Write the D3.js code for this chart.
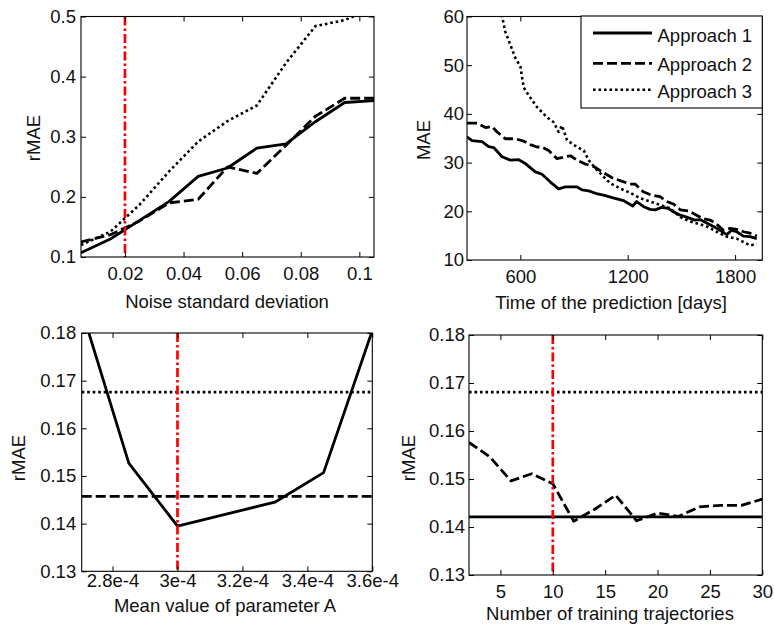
<!DOCTYPE html>
<html><head><meta charset="utf-8">
<script src="https://cdn.jsdelivr.net/npm/d3@7"></script>
<style>body{margin:0;background:#fff}</style>
</head><body><svg id="c" width="774" height="632"></svg>
<script>
// ---------------- DATA ----------------
// Panel 1: rMAE vs noise standard deviation
const noiseStd = [0.005,0.015,0.025,0.035,0.045,0.055,0.065,0.075,0.085,0.095,0.105];
const noiseA1  = [0.107,0.130,0.161,0.192,0.234,0.248,0.281,0.288,0.325,0.357,0.360];
const noiseA2  = [0.125,0.137,0.160,0.190,0.196,0.250,0.239,0.286,0.334,0.364,0.364];
const noiseA3  = [0.120,0.142,0.187,0.242,0.292,0.326,0.352,0.423,0.484,0.494,0.515];
const noiseTicks = [0.02,0.04,0.06,0.08,0.1];
const noiseTickLabels = ["0.02","0.04","0.06","0.08","0.1"];
const noiseYTicks = [0.1,0.2,0.3,0.4,0.5];
const noiseYTickLabels = ["0.1","0.2","0.3","0.4","0.5"];
const noiseChosen = 0.02;

// Panel 2: MAE vs time of the prediction
const timeA1 = [302,330,386,423,451,498,544,591,628,684,721,768,814,852,917,945,982,1020,1076,1113,1176,1228,1250,1287,1325,1353,1390,1427,1455,1494,1529,1576,1604,1641,1679,1716,1753,1781,1809,1846,1884,1921];
const maeA1  = [35.3,34.5,34.3,33.3,33.1,31.2,30.5,30.6,29.8,28.1,27.6,26.0,24.6,25.0,25.0,24.4,24.2,23.7,23.2,22.8,22.2,21.1,22.0,21.0,20.4,20.3,20.8,20.6,19.9,19.2,18.8,18.2,18.3,17.6,16.9,16.1,15.2,16.1,15.8,14.9,14.8,14.4];
const timeA2 = [302,358,405,442,470,516,572,619,656,693,721,758,805,852,880,917,963,1010,1057,1113,1157,1213,1241,1287,1334,1381,1418,1455,1494,1539,1585,1623,1660,1697,1734,1772,1809,1846,1884,1921];
const maeA2  = [38.1,38.1,37.2,37.4,36.3,34.9,34.9,34.4,33.7,33.2,33.2,32.5,30.8,31.2,31.4,30.5,29.7,29.2,28.1,26.9,26.3,25.6,25.6,24.0,23.3,23.0,22.0,21.5,20.3,20.1,19.2,18.5,18.2,17.4,16.1,16.5,16.3,15.8,15.5,14.9];
const timeA3 = [302,400,470,498,516,544,572,600,619,647,693,749,786,814,833,861,917,954,982,1020,1057,1101,1157,1213,1269,1325,1381,1437,1494,1550,1597,1641,1697,1753,1809,1846,1884,1921];
const maeA3  = [130,85,66,60,56.9,54.2,51.5,49.8,45.4,43.8,41.4,39.3,38.3,36.3,37.6,34.6,33.2,32.5,30.5,28.8,27.4,25.8,24.7,23.8,22.7,22.0,21.3,20.6,18.8,17.9,17.4,16.9,15.8,14.8,14.4,13.7,13.0,13.3];
const timeTicks = [600,1200,1800];
const timeTickLabels = ["600","1200","1800"];
const maeYTicks = [10,20,30,40,50,60];
const maeYTickLabels = ["10","20","30","40","50","60"];
const legendLabels = ["Approach 1","Approach 2","Approach 3"];

// Panel 3: rMAE vs mean value of parameter A
const paramA   = [2.7e-4,2.85e-4,3.0e-4,3.15e-4,3.3e-4,3.45e-4,3.6e-4];
const paramAA1 = [0.186,0.1527,0.1395,0.1420,0.1445,0.1507,0.1805];
const paramAA2 = 0.1457;
const paramAA3 = 0.1676;
const paramTicks = [2.8e-4,3.0e-4,3.2e-4,3.4e-4,3.6e-4];
const paramTickLabels = ["2.8e-4","3e-4","3.2e-4","3.4e-4","3.6e-4"];
const paramChosen = 3.0e-4;

// Panel 4: rMAE vs number of training trajectories
const nTraj   = [2,4,6,8,10,12,14,16,18,20,22,24,26,28,30];
const nTrajA2 = [0.1576,0.1546,0.1496,0.1511,0.1490,0.1412,0.1437,0.1466,0.1413,0.1429,0.1422,0.1442,0.1445,0.1445,0.1458];
const nTrajA1 = 0.1421;
const nTrajA3 = 0.1681;
const nTrajTicks = [5,10,15,20,25,30];
const nTrajTickLabels = ["5","10","15","20","25","30"];
const nTrajChosen = 10;

const rmaeYTicks = [0.13,0.14,0.15,0.16,0.17,0.18];
const rmaeYTickLabels = ["0.13","0.14","0.15","0.16","0.17","0.18"];

// ---------------- DRAWING ----------------
const svg = d3.select("#c");
const FONT = "'Liberation Sans', Arial, sans-serif";
const FS = 18.5;
const TXT = "#111";
const DASH = {solid: null, dashed: "10,4", dotted: "2.6,2.9"};
const WIDTH = {solid: 2.8, dashed: 2.8, dotted: 2.6};

function panel(cfg) {
  const b = cfg.box;
  const xs = d3.scaleLinear().domain(cfg.xDomain).range([b.x0, b.x1]);
  const ys = d3.scaleLinear().domain(cfg.yDomain).range([b.y1, b.y0]);
  const g = svg.append("g");
  const cid = "clip" + cfg.name;
  svg.append("clipPath").attr("id", cid).append("rect")
    .attr("x", b.x0).attr("y", b.y0).attr("width", b.x1 - b.x0).attr("height", b.y1 - b.y0);
  const plot = g.append("g").attr("clip-path", `url(#${cid})`);

  cfg.series.forEach(s => {
    const pts = (s.level !== undefined)
      ? [[cfg.xDomain[0], s.level], [cfg.xDomain[1], s.level]]
      : s.x.map((v, i) => [v, s.y[i]]);
    plot.append("path")
      .attr("d", d3.line().x(d => xs(d[0])).y(d => ys(d[1]))(pts))
      .attr("fill", "none").attr("stroke", "#000")
      .attr("stroke-width", WIDTH[s.style])
      .attr("stroke-linejoin", "round")
      .attr("stroke-dasharray", DASH[s.style]);
  });
  if (cfg.red !== undefined) {
    plot.append("line")
      .attr("x1", xs(cfg.red)).attr("x2", xs(cfg.red))
      .attr("y1", b.y0).attr("y2", b.y1)
      .attr("stroke", "#ff0000").attr("stroke-width", 2.7)
      .attr("stroke-dasharray", "9,3,2.5,3");
  }

  const fmtX = d => cfg.xLabels[cfg.xTicks.indexOf(d)];
  const fmtY = d => cfg.yLabels[cfg.yTicks.indexOf(d)];
  const style = sel => {
    sel.select(".domain").remove();
    sel.selectAll(".tick line").attr("stroke", "#000").attr("stroke-width", 1);
    sel.selectAll("text").attr("font-family", FONT).attr("font-size", FS).attr("fill", TXT);
  };
  g.append("g").attr("transform", `translate(0,${b.y1})`)
    .call(d3.axisBottom(xs).tickValues(cfg.xTicks).tickFormat(fmtX).tickSizeInner(-5).tickSizeOuter(0).tickPadding(cfg.xPad))
    .call(style);
  g.append("g").attr("transform", `translate(0,${b.y0})`)
    .call(d3.axisTop(xs).tickValues(cfg.xTicks).tickFormat("").tickSizeInner(-5).tickSizeOuter(0))
    .call(style);
  g.append("g").attr("transform", `translate(${b.x0},0)`)
    .call(d3.axisLeft(ys).tickValues(cfg.yTicks).tickFormat(fmtY).tickSizeInner(-5).tickSizeOuter(0).tickPadding(cfg.yPad))
    .call(style);
  g.append("g").attr("transform", `translate(${b.x1},0)`)
    .call(d3.axisRight(ys).tickValues(cfg.yTicks).tickFormat("").tickSizeInner(-5).tickSizeOuter(0))
    .call(style);
  g.append("rect").attr("x", b.x0).attr("y", b.y0).attr("width", b.x1 - b.x0).attr("height", b.y1 - b.y0)
    .attr("fill", "none").attr("stroke", "#000").attr("stroke-width", 1.1);

  g.append("text").attr("x", cfg.xTitlePos[0]).attr("y", cfg.xTitlePos[1])
    .attr("text-anchor", "middle").attr("font-family", FONT).attr("font-size", FS).attr("fill", TXT)
    .text(cfg.xTitle);
  g.append("text").attr("transform", `translate(${cfg.yTitlePos[0]},${cfg.yTitlePos[1]}) rotate(-90)`)
    .attr("text-anchor", "middle").attr("font-family", FONT).attr("font-size", FS).attr("fill", TXT)
    .text(cfg.yTitle);
  return {xs, ys, g};
}

panel({
  name: "tl", box: {x0: 81, x1: 374, y0: 16.5, y1: 257},
  xDomain: [0.005, 0.105], yDomain: [0.1, 0.5],
  xTicks: noiseTicks, xLabels: noiseTickLabels, yTicks: noiseYTicks, yLabels: noiseYTickLabels,
  xPad: 10, yPad: 5,
  series: [
    {x: noiseStd, y: noiseA3, style: "dotted"},
    {x: noiseStd, y: noiseA2, style: "dashed"},
    {x: noiseStd, y: noiseA1, style: "solid"}
  ],
  red: noiseChosen,
  xTitle: "Noise standard deviation", xTitlePos: [227, 308],
  yTitle: "rMAE", yTitlePos: [39.5, 138]
});

panel({
  name: "tr", box: {x0: 467, x1: 762.3, y0: 16.5, y1: 260},
  xDomain: [302, 1952], yDomain: [10, 60],
  xTicks: timeTicks, xLabels: timeTickLabels, yTicks: maeYTicks, yLabels: maeYTickLabels,
  xPad: 9.6, yPad: 3,
  series: [
    {x: timeA3, y: maeA3, style: "dotted"},
    {x: timeA2, y: maeA2, style: "dashed"},
    {x: timeA1, y: maeA1, style: "solid"}
  ],
  xTitle: "Time of the prediction [days]", xTitlePos: [611, 308.5],
  yTitle: "MAE", yTitlePos: [429.5, 140]
});

// legend
const lg = svg.append("g");
lg.append("rect").attr("x", 581).attr("y", 16).attr("width", 181.3).attr("height", 92)
  .attr("fill", "#fff").attr("stroke", "#000").attr("stroke-width", 1.1);
["solid", "dashed", "dotted"].forEach((st, i) => {
  const ly = [33, 63.3, 89.8][i];
  lg.append("line").attr("x1", 593).attr("x2", 652).attr("y1", ly).attr("y2", ly)
    .attr("stroke", "#000").attr("stroke-width", WIDTH[st]).attr("stroke-dasharray", DASH[st]);
  lg.append("text").attr("x", 657.5).attr("y", [41.7, 70.7, 98.3][i])
    .attr("font-family", FONT).attr("font-size", FS).attr("fill", TXT).text(legendLabels[i]);
});

panel({
  name: "bl", box: {x0: 81.7, x1: 372.3, y0: 333, y1: 571.3},
  xDomain: [2.705e-4, 3.6e-4], yDomain: [0.13, 0.18],
  xTicks: paramTicks, xLabels: paramTickLabels, yTicks: rmaeYTicks, yLabels: rmaeYTickLabels,
  xPad: 2.5, yPad: 5.5,
  series: [
    {level: paramAA3, style: "dotted"},
    {level: paramAA2, style: "dashed"},
    {x: paramA, y: paramAA1, style: "solid"}
  ],
  red: paramChosen,
  xTitle: "Mean value of parameter A", xTitlePos: [225, 611.7],
  yTitle: "rMAE", yTitlePos: [25, 458]
});

panel({
  name: "br", box: {x0: 469, x1: 762.3, y0: 335, y1: 575},
  xDomain: [2, 30], yDomain: [0.13, 0.18],
  xTicks: nTrajTicks, xLabels: nTrajTickLabels, yTicks: rmaeYTicks, yLabels: rmaeYTickLabels,
  xPad: 10, yPad: 4,
  series: [
    {level: nTrajA3, style: "dotted"},
    {x: nTraj, y: nTrajA2, style: "dashed"},
    {level: nTrajA1, style: "solid"}
  ],
  red: nTrajChosen,
  xTitle: "Number of training trajectories", xTitlePos: [610, 620],
  yTitle: "rMAE", yTitlePos: [415, 458]
});
</script>
</body></html>
